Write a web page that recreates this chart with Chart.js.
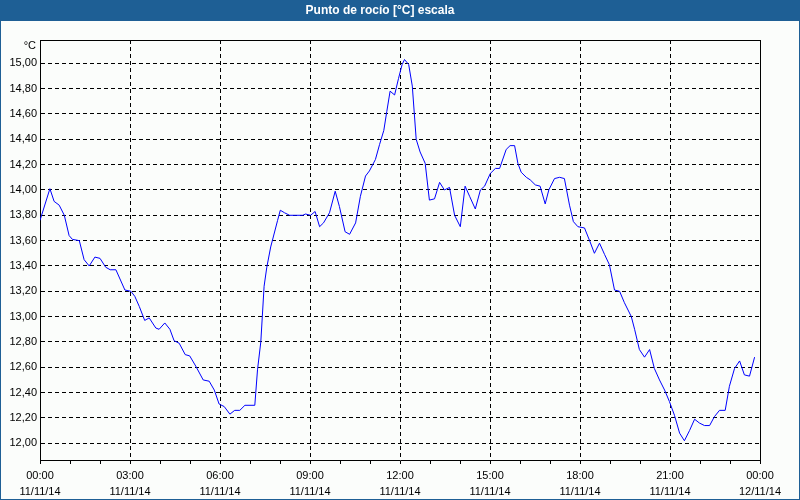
<!DOCTYPE html>
<html>
<head>
<meta charset="utf-8">
<title>Punto de rocío [°C] escala</title>
<script src="https://cdn.jsdelivr.net/npm/chart.js@4/dist/chart.umd.min.js"></script>
<style>
  html, body { margin: 0; padding: 0; background: #fbfdfb; }
  canvas { display: block; }
</style>
</head>
<body>
<canvas id="chart" width="800" height="500"></canvas>
<script>
// hours since 11/11/14 00:00
const times = [
  0, 0.33, 0.47, 0.64, 0.81, 0.97, 1.08, 1.31, 1.47, 1.64, 1.83, 2.0, 2.19, 2.34, 2.53,
  2.83, 3.03, 3.16, 3.31, 3.49, 3.64, 3.86, 3.97, 4.16, 4.33, 4.47, 4.64, 4.84, 4.99,
  5.19, 5.44, 5.64, 5.81, 5.97, 6.14, 6.33, 6.49, 6.66, 6.83, 7.16, 7.25, 7.36, 7.47, 7.56, 7.69, 7.92,
  8.01, 8.15, 8.32, 8.76, 8.85, 9.02, 9.17, 9.32, 9.45, 9.65, 9.84, 9.98, 10.17, 10.32, 10.52, 10.68, 10.85, 10.98,
  11.18, 11.32, 11.46, 11.56, 11.67, 11.82, 11.95, 12.07, 12.15, 12.29, 12.41, 12.54, 12.67, 12.84, 12.98,
  13.15, 13.32, 13.48, 13.65, 13.82, 14.01, 14.17, 14.32, 14.51, 14.68, 14.82, 15.01, 15.18, 15.32,
  15.54, 15.67, 15.82, 15.93, 16.04, 16.21, 16.34, 16.51, 16.67, 16.84, 16.96, 17.15, 17.32, 17.48, 17.65, 17.78, 17.93,
  18.15, 18.32, 18.48, 18.65, 18.82, 18.98, 19.15, 19.32, 19.48, 19.71, 19.82, 19.98, 20.15,
  20.32, 20.48, 20.65, 20.82, 20.98, 21.15, 21.32, 21.48, 21.65, 21.82, 21.98, 22.15, 22.32,
  22.48, 22.65, 22.84, 22.98, 23.15, 23.32, 23.48, 23.65, 23.82
];
const dewPoint = [
  13.76, 14.01, 13.91, 13.88, 13.80, 13.64, 13.61, 13.60, 13.45, 13.40, 13.47, 13.46, 13.39, 13.37, 13.37,
  13.21, 13.20, 13.16, 13.08, 12.97, 12.99, 12.91, 12.90, 12.95, 12.90, 12.81, 12.79, 12.70, 12.69,
  12.61, 12.50, 12.49, 12.42, 12.31, 12.29, 12.23, 12.26, 12.26, 12.30, 12.30, 12.58, 12.80, 13.24, 13.39, 13.55, 13.76,
  13.84, 13.82, 13.80, 13.80, 13.81, 13.80, 13.83, 13.71, 13.74, 13.82, 13.99, 13.87, 13.67, 13.65, 13.74, 13.95, 14.11, 14.15,
  14.24, 14.36, 14.47, 14.62, 14.78, 14.75, 14.88, 14.99, 15.03, 14.99, 14.82, 14.40, 14.30, 14.21, 13.92,
  13.93, 14.06, 14.00, 14.02, 13.80, 13.71, 14.03, 13.95, 13.85, 14.00, 14.03, 14.13, 14.17, 14.17,
  14.32, 14.35, 14.35, 14.21, 14.14, 14.10, 14.08, 14.04, 14.03, 13.89, 14.00, 14.09, 14.10, 14.09, 13.88, 13.75, 13.71,
  13.70, 13.60, 13.50, 13.58, 13.49, 13.41, 13.21, 13.20, 13.11, 13.00, 12.90, 12.74, 12.68,
  12.74, 12.59, 12.50, 12.42, 12.33, 12.22, 12.08, 12.02, 12.10, 12.19, 12.16, 12.14, 12.14,
  12.21, 12.26, 12.26, 12.45, 12.59, 12.65, 12.54, 12.53, 12.68
];
const timeLabels = ["00:00", "03:00", "06:00", "09:00", "12:00", "15:00", "18:00", "21:00", "00:00"];
const dateLabels = ["11/11/14", "11/11/14", "11/11/14", "11/11/14", "11/11/14", "11/11/14", "11/11/14", "11/11/14", "12/11/14"];
const yTicks = [12.0, 12.2, 12.4, 12.6, 12.8, 13.0, 13.2, 13.4, 13.6, 13.8, 14.0, 14.2, 14.4, 14.6, 14.8, 15.0];

const FONT = '"Liberation Sans", Arial, sans-serif';
Chart.defaults.font.family = FONT;
Chart.defaults.font.size = 11;
Chart.defaults.color = "#000";

// window background, blue title bar and frame, unit label
const decor = {
  id: "decor",
  beforeDraw(chart) {
    const ctx = chart.ctx;
    ctx.save();
    ctx.fillStyle = "#fbfdfb";
    ctx.fillRect(0, 0, chart.width, chart.height);
    ctx.fillStyle = "#1e5f95";
    ctx.fillRect(0, 0, chart.width, 21);
    ctx.strokeStyle = "#1e5f95";
    ctx.lineWidth = 1;
    ctx.strokeRect(0.5, 0.5, chart.width - 1, chart.height - 1);
    ctx.fillStyle = "#000";
    ctx.font = "11px " + FONT;
    ctx.textAlign = "right";
    ctx.textBaseline = "middle";
    ctx.fillText("°C", 36, 46);
    ctx.restore();
  },
  beforeDatasetsDraw(chart) {
    const { ctx, chartArea: a } = chart;
    ctx.save();
    ctx.strokeStyle = "#000";
    ctx.lineWidth = 1;
    ctx.beginPath();
    ctx.moveTo(a.left, a.top + 0.5);
    ctx.lineTo(a.right + 1, a.top + 0.5);
    ctx.moveTo(a.right + 0.5, a.top);
    ctx.lineTo(a.right + 0.5, a.bottom + 1);
    ctx.stroke();
    ctx.restore();
  }
};

new Chart(document.getElementById("chart"), {
  type: "line",
  data: {
    datasets: [{
      label: "Punto de rocío",
      data: times.map((t, i) => ({ x: t, y: dewPoint[i] })),
      borderColor: "#0000ff",
      borderWidth: 1,
      pointRadius: 0,
      tension: 0,
      fill: false
    }]
  },
  options: {
    responsive: false,
    animation: false,
    layout: { padding: { left: 0, right: 40, top: 0, bottom: 0 } },
    plugins: {
      legend: { display: false },
      tooltip: { enabled: false },
      title: {
        display: true,
        text: "Punto de rocío [°C] escala",
        color: "#fff",
        font: { size: 12, weight: "bold" },
        padding: { top: 3, bottom: 22.6 }
      }
    },
    scales: {
      x: {
        type: "linear",
        min: 0,
        max: 24,
        afterFit(scale) { scale.height = 40; },
        ticks: {
          stepSize: 1,
          autoSkip: false,
          maxRotation: 0,
          padding: 3.5,
          font: { lineHeight: "16px" },
          callback: (v) => (v % 3 === 0 ? [timeLabels[v / 3], dateLabels[v / 3]] : "")
        },
        grid: {
          color: (c) => (c.tick && c.tick.value % 3 === 0 ? "#000" : "rgba(0,0,0,0)"),
          tickColor: "#000",
          tickLength: 4,
          lineWidth: 1
        },
        border: { display: true, color: "#000", width: 1, dash: [4, 3] }
      },
      y: {
        min: 11.868,
        max: 15.184,
        afterFit(scale) { scale.width = 40; },
        afterBuildTicks(scale) { scale.ticks = yTicks.map((v) => ({ value: v })); },
        ticks: {
          padding: 3,
          callback: (v) => v.toFixed(2).replace(".", ",")
        },
        grid: { color: "#000", drawTicks: false, lineWidth: 1 },
        border: { display: true, color: "#000", width: 1, dash: [4, 3] }
      }
    }
  },
  plugins: [decor]
});
</script>
</body>
</html>
